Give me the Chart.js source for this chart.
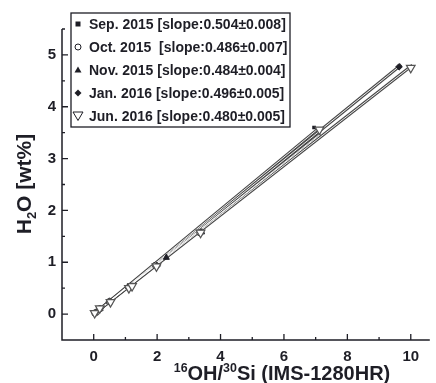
<!DOCTYPE html>
<html lang="en">
<head>
    <meta charset="UTF-8">
    <title>H2O vs 16OH/30Si</title>
    <script src="https://cdn.jsdelivr.net/npm/chart.js"></script>
    <style>
        html, body { margin: 0; padding: 0; background: #fff; }
        canvas { display: block; }
    </style>
</head>
<body>
    <canvas id="calChart" width="436" height="383"></canvas>

    <script>
        const sepX = [0.05, 0.2, 0.52, 1.1, 1.2, 2.0, 3.38, 6.95];
        const sepY = [0.03, 0.11, 0.25, 0.53, 0.57, 0.95, 1.58, 3.6];
        const octX = [0.04, 0.18, 0.5, 1.12, 1.95, 3.35];
        const octY = [0.02, 0.1, 0.24, 0.52, 0.94, 1.57];
        const novX = [0.05, 0.2, 0.5, 1.1, 2.29, 3.4];
        const novY = [0.02, 0.1, 0.23, 0.52, 1.09, 1.58];
        const janX = [0.05, 0.2, 0.5, 1.15, 2.0, 3.38, 9.63];
        const janY = [0.03, 0.1, 0.25, 0.53, 0.93, 1.58, 4.77];
        const junX = [0.03, 0.19, 0.53, 1.11, 1.21, 1.98, 3.37, 7.12, 10.0];
        const junY = [0.02, 0.11, 0.23, 0.50, 0.54, 0.92, 1.57, 3.56, 4.75];

        // fitted lines, start / end points
        const fitX = {
            sep: [0, 7.05], oct: [0, 7.15], nov: [0, 7.15], jan: [0, 9.7], jun: [0, 10.05]
        };
        const fitY = {
            sep: [0, 3.56], oct: [0, 3.48], nov: [0, 3.46], jan: [0, 4.81], jun: [0, 4.8]
        };

        const legendLabels = [
            'Sep. 2015 [slope:0.504\u00b10.008]',
            'Oct. 2015  [slope:0.486\u00b10.007]',
            'Nov. 2015 [slope:0.484\u00b10.004]',
            'Jan. 2016 [slope:0.496\u00b10.005]',
            'Jun. 2016 [slope:0.480\u00b10.005]'
        ];

        const xTicks = [0, 2, 4, 6, 8, 10];
        const xMinor = [1, 3, 5, 7, 9];
        const yTicks = [0, 1, 2, 3, 4, 5];
        const yMinor = [0.5, 1.5, 2.5, 3.5, 4.5, 5.5];

        const ink = '#1e1e26';
        const fontFam = '"Liberation Sans", Arial, sans-serif';

        function pts(xs, ys) {
            return xs.map((x, i) => ({ x: x, y: ys[i] }));
        }

        const fitDatasets = [];
        Object.keys(fitX).forEach(k => {
            fitDatasets.push({
                data: pts(fitX[k], fitY[k]), showLine: true, pointRadius: 0,
                borderColor: '#4a4a4a', borderWidth: 3, order: 6
            });
            fitDatasets.push({
                data: pts(fitX[k], fitY[k]), showLine: true, pointRadius: 0,
                borderColor: '#ffffff', borderWidth: 0.9, order: 5
            });
        });

        // draws the axis lines and inward ticks
        const axesPlugin = {
            id: 'axesPlugin',
            afterDraw(chart) {
                const c = chart.ctx, a = chart.chartArea;
                const xs = chart.scales.x, ys = chart.scales.y;
                c.save();
                c.strokeStyle = ink;
                c.lineWidth = 1.5;
                c.beginPath();
                c.moveTo(a.left, a.top);
                c.lineTo(a.left, a.bottom);
                c.lineTo(a.right, a.bottom);
                c.stroke();
                c.lineWidth = 1.3;
                c.beginPath();
                xTicks.forEach(v => { const p = xs.getPixelForValue(v); c.moveTo(p, a.bottom); c.lineTo(p, a.bottom - 6); });
                xMinor.forEach(v => { const p = xs.getPixelForValue(v); c.moveTo(p, a.bottom); c.lineTo(p, a.bottom - 3); });
                yTicks.forEach(v => { const p = ys.getPixelForValue(v); c.moveTo(a.left, p); c.lineTo(a.left + 6, p); });
                yMinor.forEach(v => { const p = ys.getPixelForValue(v); c.moveTo(a.left, p); c.lineTo(a.left + 3, p); });
                c.stroke();
                c.restore();
            }
        };

        function drawMarker(c, style, x, y) {
            c.beginPath();
            if (style === 'square') {
                c.rect(x - 2.5, y - 2.5, 5, 5); c.fill();
            } else if (style === 'circle') {
                c.arc(x, y, 3, 0, Math.PI * 2); c.stroke();
            } else if (style === 'triangle') {
                c.moveTo(x, y - 3.5); c.lineTo(x + 3.5, y + 2.5); c.lineTo(x - 3.5, y + 2.5); c.closePath(); c.fill();
            } else if (style === 'diamond') {
                c.moveTo(x, y - 3.5); c.lineTo(x + 3.5, y); c.lineTo(x, y + 3.5); c.lineTo(x - 3.5, y); c.closePath(); c.fill();
            } else {
                c.moveTo(x - 5, y - 4); c.lineTo(x + 5, y - 4); c.lineTo(x, y + 4.5); c.closePath(); c.stroke();
            }
        }

        // legend box and axis titles
        const legendPlugin = {
            id: 'legendPlugin',
            afterDraw(chart) {
                const c = chart.ctx;
                const styles = ['square', 'circle', 'triangle', 'diamond', 'down'];
                c.save();
                c.fillStyle = '#fff';
                c.fillRect(71, 13, 219, 114);
                c.strokeStyle = ink;
                c.lineWidth = 1.3;
                c.strokeRect(71, 13, 219, 114);
                c.font = 'bold 14px ' + fontFam;
                c.textBaseline = 'middle';
                legendLabels.forEach((t, i) => {
                    const y = 24 + i * 23;
                    c.fillStyle = ink;
                    c.strokeStyle = ink;
                    c.lineWidth = 1;
                    drawMarker(c, styles[i], 78, y);
                    c.fillText(t, 89, y + 1);
                });

                // axis titles with sub/superscripts
                function rich(parts, size) {
                    let w = 0;
                    parts.forEach(p => {
                        c.font = 'bold ' + (p[1] ? size * 0.62 : size) + 'px ' + fontFam;
                        p.w = c.measureText(p[0]).width;
                        w += p.w;
                    });
                    return w;
                }
                function drawRich(parts, size, x, y) {
                    let cx = x;
                    parts.forEach(p => {
                        c.font = 'bold ' + (p[1] ? size * 0.62 : size) + 'px ' + fontFam;
                        const dy = p[1] === 'sup' ? -size * 0.38 : (p[1] === 'sub' ? size * 0.22 : 0);
                        c.fillText(p[0], cx, y + dy);
                        cx += p.w;
                    });
                }
                c.fillStyle = ink;
                c.textBaseline = 'alphabetic';
                c.textAlign = 'left';
                const xt = [['16', 'sup'], ['OH/'], ['30', 'sup'], ['Si (IMS-1280HR)']];
                const xw = rich(xt, 20);
                drawRich(xt, 20, 282 - xw / 2, 380);

                const yt = [['H'], ['2', 'sub'], ['O [wt%]']];
                const yw = rich(yt, 21);
                c.translate(31, 184);
                c.rotate(-Math.PI / 2);
                drawRich(yt, 21, -yw / 2, 0);
                c.restore();
            }
        };

        const ctx = document.getElementById('calChart').getContext('2d');
        const chart = new Chart(ctx, {
            type: 'scatter',
            data: {
                datasets: [
                    {
                        label: 'Sep. 2015', data: pts(sepX, sepY), pointStyle: 'rect', pointRadius: 2.6,
                        backgroundColor: ink, borderColor: ink, borderWidth: 0, order: 2
                    },
                    {
                        label: 'Oct. 2015', data: pts(octX, octY), pointStyle: 'circle', pointRadius: 3.2,
                        backgroundColor: '#fff', borderColor: '#333', borderWidth: 1, order: 3
                    },
                    {
                        label: 'Nov. 2015', data: pts(novX, novY), pointStyle: 'triangle', pointRadius: 3.5,
                        backgroundColor: ink, borderColor: ink, borderWidth: 1, order: 3
                    },
                    {
                        label: 'Jan. 2016', data: pts(janX, janY), pointStyle: 'rectRot', pointRadius: 3.3,
                        backgroundColor: ink, borderColor: ink, borderWidth: 1, order: 3
                    },
                    {
                        label: 'Jun. 2016', data: pts(junX, junY), pointStyle: 'triangle', rotation: 180,
                        pointRadius: 5, backgroundColor: '#fff', borderColor: '#555', borderWidth: 1.2, order: 1
                    }
                ].concat(fitDatasets)
            },
            options: {
                responsive: false,
                animation: false,
                layout: { padding: { top: 29, right: 0, left: 0, bottom: 0 } },
                plugins: {
                    legend: { display: false },
                    tooltip: { enabled: false }
                },
                scales: {
                    x: {
                        type: 'linear', min: -1, max: 10.6,
                        afterFit(s) { s.height = 43; },
                        afterBuildTicks(s) { s.ticks = xTicks.map(v => ({ value: v })); },
                        grid: { display: false, drawTicks: false },
                        border: { display: false },
                        ticks: { color: ink, padding: 8, maxRotation: 0, font: { family: fontFam, size: 15, weight: 'bold' } }
                    },
                    y: {
                        type: 'linear', min: -0.5, max: 5.5,
                        afterFit(s) { s.width = 62; },
                        afterBuildTicks(s) { s.ticks = yTicks.map(v => ({ value: v })); },
                        grid: { display: false, drawTicks: false },
                        border: { display: false },
                        ticks: { color: ink, padding: 6, font: { family: fontFam, size: 15, weight: 'bold' } }
                    }
                }
            },
            plugins: [axesPlugin, legendPlugin]
        });
    </script>
</body>
</html>
